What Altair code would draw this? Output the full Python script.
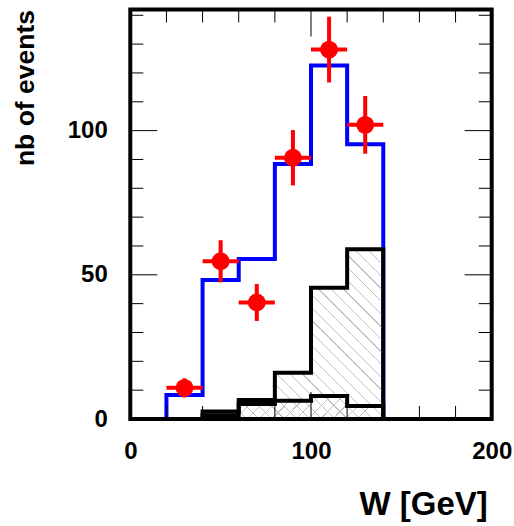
import altair as alt
import pandas as pd

# ---- data ----
bin_lo = [20, 40, 60, 80, 100, 120]
bin_hi = [40, 60, 80, 100, 120, 140]
bin_mid = [30, 50, 70, 90, 110, 130]

mc_total = [8.3, 48.2, 55.5, 88.4, 122.6, 95.3]        # blue histogram
data_val = [10.8, 54.7, 40.4, 90.6, 128.1, 102.0]      # red points
data_err = [3.3, 7.3, 6.4, 9.6, 11.4, 10.0]

bkg_lo = [40, 60, 80, 100, 120]
bkg_hi = [60, 80, 100, 120, 140]
bkg_big = [2.6, 6.6, 16.0, 45.5, 58.9]                # hatched background
bkg_small = [1.3, 5.2, 6.3, 8.0, 4.5]                 # cross-hatched background

x_major = [0, 100, 200]
x_minor = [20, 40, 60, 80, 120, 140, 160, 180]
y_major = [0, 50, 100]
y_minor = [10, 20, 30, 40, 60, 70, 80, 90, 110, 120, 130, 140]

W, H = 361.4, 409.5
FONT = "Liberation Sans"

# ---- tables ----
def step_line(lo, hi, vals):
    rows = [{"x": lo[0], "y": 0}]
    rows += [{"x": l, "y": v} for l, v in zip(lo, vals)]
    rows += [{"x": hi[-1], "y": vals[-1]}, {"x": hi[-1], "y": 0}]
    for i, r in enumerate(rows):
        r["o"] = i
    return pd.DataFrame(rows)

def step_area(lo, hi, vals):
    xs = list(lo) + [hi[-1]]
    ys = list(vals) + [vals[-1]]
    return pd.DataFrame({"x": xs, "y": ys})

def hatch(n, half, vec, color="#c2c2c2"):
    clear = "rgba(255,255,255,0)"
    stops = [{"offset": 0, "color": clear}]
    for k in range(n):
        c = (k + 0.5) / n
        stops += [
            {"offset": c - half, "color": clear},
            {"offset": c - half, "color": color},
            {"offset": c + half, "color": color},
            {"offset": c + half, "color": clear},
        ]
    stops.append({"offset": 1, "color": clear})
    x1, y1, x2, y2 = vec
    return {"gradient": "linear", "x1": x1, "y1": y1, "x2": x2, "y2": y2, "stops": stops}

pts = pd.DataFrame({"x": bin_mid, "lo": bin_lo, "hi": bin_hi, "y": data_val,
                    "ylo": [v - e for v, e in zip(data_val, data_err)],
                    "yhi": [v + e for v, e in zip(data_val, data_err)]})

sx = alt.Scale(domain=[0, 200], nice=False, zero=False)
sy = alt.Scale(domain=[0, 142], nice=False, zero=False)

ax_x = alt.Axis(values=x_major, ticks=False, domain=False, grid=False,
                labelFont=FONT, labelFontSize=24, labelFontWeight="bold", labelColor="black",
                labelPadding=20, labelFlush=False, labelOverlap=False,
                title="W [GeV]", titleFont=FONT, titleFontSize=33, titleFontWeight="bold",
                titleColor="black", titleAlign="right", titleBaseline="alphabetic",
                titleX=357, titleY=95, titleAngle=0)
ax_y = alt.Axis(values=y_major, ticks=False, domain=False, grid=False,
                labelFont=FONT, labelFontSize=24, labelFontWeight="bold", labelColor="black",
                labelPadding=23, labelOverlap=False, labelFlush=False,
                title="nb of events", titleFont=FONT, titleFontSize=26.5, titleFontWeight="bold",
                titleColor="black", titleAngle=270, titleAlign="right", titleBaseline="alphabetic",
                titleX=-97, titleY=0)

X = lambda f: alt.X(f, type="quantitative", scale=sx, axis=ax_x)
Y = lambda f: alt.Y(f, type="quantitative", scale=sy, axis=ax_y, stack=None)

blue = alt.Chart(step_line(bin_lo, bin_hi, mc_total)).mark_line(
    interpolate="step-after", color="#0000ff", strokeWidth=4, strokeJoin="miter"
).encode(x=X("x"), y=Y("y"), order="o:Q")

big = alt.Chart(step_area(bkg_lo, bkg_hi, bkg_big)).mark_area(
    interpolate="step-after", orient="vertical", stroke="black", strokeWidth=4,
    strokeJoin="miter", fill=hatch(27, 0.0018, (0, 1, 1, 0.06))
).encode(x=X("x"), y=Y("y"))

small = alt.Chart(step_area(bkg_lo, bkg_hi, bkg_small)).mark_area(
    interpolate="step-after", orient="vertical", stroke="black", strokeWidth=4,
    strokeJoin="miter", fill=hatch(15, 0.0034, (0, 0, 1, 0.127))
).encode(x=X("x"), y=Y("y"))

errv = alt.Chart(pts).mark_rule(color="#ff0000", strokeWidth=4).encode(
    x=X("x"), y=Y("ylo"), y2="yhi")
errh = alt.Chart(pts).mark_rule(color="#ff0000", strokeWidth=4).encode(
    x=X("lo"), x2="hi", y=Y("y"))
dots = alt.Chart(pts).mark_circle(color="#ff0000", opacity=1, size=320).encode(
    x=X("x"), y=Y("y"))

def xticks(vals, length):
    d = pd.DataFrame({"t": vals})
    top = alt.Chart(d).mark_rule(color="black", strokeWidth=1).encode(
        x=X("t"), y=alt.value(0), y2=alt.value(length))
    bot = alt.Chart(d).mark_rule(color="black", strokeWidth=1).encode(
        x=X("t"), y=alt.value(H - length), y2=alt.value(H))
    return [top, bot]

def yticks(vals, length):
    d = pd.DataFrame({"t": vals})
    left = alt.Chart(d).mark_rule(color="black", strokeWidth=1).encode(
        y=Y("t"), x=alt.value(0), x2=alt.value(length))
    right = alt.Chart(d).mark_rule(color="black", strokeWidth=1).encode(
        y=Y("t"), x=alt.value(W - length), x2=alt.value(W))
    return [left, right]

ticks = xticks(x_minor, 13) + xticks(x_major, 27) + yticks(y_minor, 13) + yticks(y_major, 27)

frame = alt.Chart(alt.Data(values=[{"a": 1}])).mark_rect(
    filled=False, stroke="black", strokeWidth=4
).encode(x=alt.value(0), x2=alt.value(W), y=alt.value(0), y2=alt.value(H))

chart = alt.layer(blue, big, small, errh, errv, dots, *ticks, frame).properties(
    width=W, height=H,
    padding={"left": 130.3, "top": 9.5, "right": 514 - 130.3 - W, "bottom": 526 - 9.5 - H},
    autosize=alt.AutoSizeParams(type="none"),
).configure_view(strokeWidth=0).configure(background="white")

chart.save("out.html", embed_options={"renderer": "svg", "actions": False})
